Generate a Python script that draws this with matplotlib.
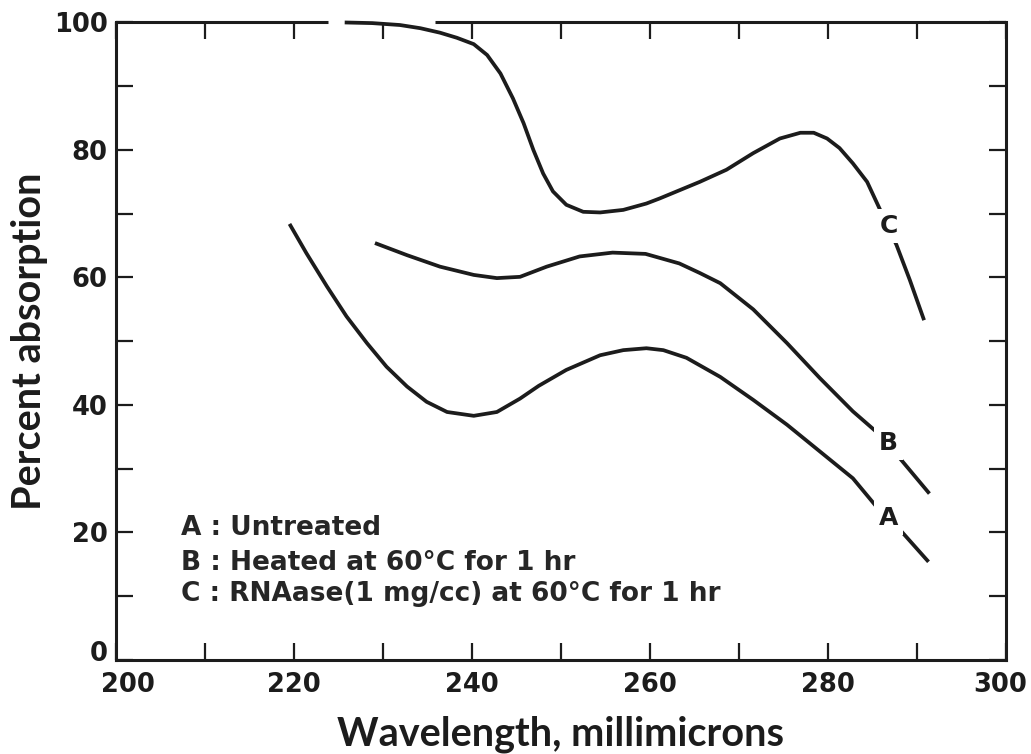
import matplotlib
matplotlib.use("Agg")
import matplotlib.pyplot as plt
from matplotlib.ticker import MultipleLocator
from matplotlib.transforms import ScaledTranslation

# ---- data ----
a_x = [219.5, 221.4, 223.7, 225.9, 228.2, 230.4, 232.7, 234.9, 237.2, 240.2, 242.8,
       245.4, 247.5, 250.6, 254.4, 257.0, 259.6, 261.5, 264.1, 267.9, 271.6, 275.4,
       279.1, 282.8, 285.3, 288.3, 291.3]
a_y = [68.4, 63.8, 58.6, 53.9, 49.7, 46.0, 42.9, 40.5, 38.9, 38.3, 38.9,
       41.0, 43.0, 45.5, 47.8, 48.6, 48.9, 48.6, 47.4, 44.4, 40.8, 36.9,
       32.7, 28.5, 24.3, 20.1, 15.4]

b_x = [229.1, 232.7, 236.4, 240.2, 242.8, 245.4, 248.4, 252.1, 255.8, 259.5, 263.3,
       265.6, 267.9, 271.6, 275.4, 279.1, 282.8, 285.6, 288.1, 291.4]
b_y = [65.4, 63.5, 61.7, 60.4, 59.9, 60.1, 61.7, 63.3, 63.9, 63.7, 62.2,
       60.7, 59.1, 55.0, 49.7, 44.2, 39.0, 35.6, 31.6, 26.1]

c_x = [225.7, 228.8, 231.9, 234.2, 236.4, 238.3, 240.2, 241.7, 243.2, 244.6, 245.8,
       246.9, 248.0, 249.1, 250.6, 252.5, 254.4, 257.0, 259.6, 261.1, 265.6, 268.6,
       271.6, 274.6, 276.9, 278.4, 279.9, 281.3, 282.8, 284.4, 285.8, 287.7, 289.2,
       290.8]
c_y = [100.0, 99.9, 99.6, 99.1, 98.4, 97.6, 96.6, 94.9, 92.0, 88.1, 84.2,
       80.0, 76.3, 73.5, 71.4, 70.3, 70.2, 70.6, 71.6, 72.4, 75.0, 76.9,
       79.5, 81.8, 82.7, 82.7, 81.8, 80.3, 77.9, 75.0, 70.8, 65.1, 59.6,
       53.3]

curve_labels = ["A", "B", "C"]
curve_label_x = [286.8, 286.8, 286.8]
curve_label_y = [22.2, 34.0, 68.0]

legend_lines = ["A : Untreated",
                "B : Heated at 60\u00b0C for 1 hr",
                "C : RNAase(1 mg/cc) at 60\u00b0C for 1 hr"]
legend_x = 207.3
legend_y = [19.6, 14.1, 9.2]

x_ticks = [200, 220, 240, 260, 280, 300]
y_ticks = [0, 20, 40, 60, 80, 100]
top_spine_gap = (223.8, 235.8)

INK = "#1c1c1c"
TICKFONT = ["DejaVu Sans"]
LABELFONT = ["Lato", "DejaVu Sans"]
plt.rcParams["font.family"] = ["DejaVu Sans"]

fig = plt.figure(figsize=(10.31, 7.54), dpi=100)
ax = fig.add_axes([0.1125, 0.1247, 0.8632, 0.8455])

lw = 2.7
for xs, ys in [(a_x, a_y), (b_x, b_y), (c_x, c_y)]:
    ax.plot(xs, ys, color=INK, lw=lw, solid_joinstyle="round",
            solid_capstyle="butt", clip_on=False, zorder=3)

for lab, lx, ly in zip(curve_labels, curve_label_x, curve_label_y):
    ax.text(lx, ly, lab, ha="center", va="center", fontsize=18, fontweight="bold",
            family=TICKFONT, color=INK, zorder=4,
            bbox=dict(boxstyle="square,pad=0.2", fc="white", ec="none"))

for txt, ly in zip(legend_lines, legend_y):
    ax.text(legend_x, ly, txt, ha="left", va="baseline", fontsize=19,
            fontweight="bold", family=TICKFONT, color="#262626")

ax.set_xlim(200, 300)
ax.set_ylim(0, 100)
ax.set_xticks(x_ticks)
ax.set_yticks(y_ticks)
ax.xaxis.set_minor_locator(MultipleLocator(10))
ax.yaxis.set_minor_locator(MultipleLocator(10))
for which in ("major", "minor"):
    ax.tick_params(axis="both", which=which, direction="in", length=12, width=1.6,
                   color=INK, top=True, right=True)
ax.tick_params(axis="x", which="major", labelsize=18.5, pad=9, labelcolor=INK)
ax.tick_params(axis="y", which="major", labelsize=18.5, pad=6, labelcolor=INK)
for lab in ax.get_xticklabels() + ax.get_yticklabels():
    lab.set_fontweight("bold")
    lab.set_family(TICKFONT)

# small print offsets of the end labels, as in the reference
xl = ax.get_xticklabels()
xl[0].set_transform(xl[0].get_transform() + ScaledTranslation(0.12, 0, fig.dpi_scale_trans))
xl[-1].set_transform(xl[-1].get_transform() + ScaledTranslation(-0.06, 0, fig.dpi_scale_trans))
yl = ax.get_yticklabels()
yl[0].set_transform(yl[0].get_transform() + ScaledTranslation(0, 0.09, fig.dpi_scale_trans))

for side in ("left", "right", "bottom"):
    ax.spines[side].set_linewidth(2.2)
    ax.spines[side].set_color(INK)
ax.spines["top"].set_visible(False)
trans = ax.get_xaxis_transform()
ax.plot([200, top_spine_gap[0]], [1, 1], transform=trans, color=INK,
        lw=2.2, clip_on=False, solid_capstyle="butt")
ax.plot([top_spine_gap[1], 300], [1, 1], transform=trans, color=INK,
        lw=2.2, clip_on=False, solid_capstyle="butt")

ax.set_xlabel("Wavelength, millimicrons", fontsize=28.5, fontweight="bold",
              family=LABELFONT, labelpad=12, color=INK)
ax.set_ylabel("Percent absorption", fontsize=28.5, fontweight="bold",
              family=LABELFONT, color=INK)
ax.yaxis.set_label_coords(-0.0764, 0.5)

fig.savefig("out.png", dpi=100, facecolor="white")
